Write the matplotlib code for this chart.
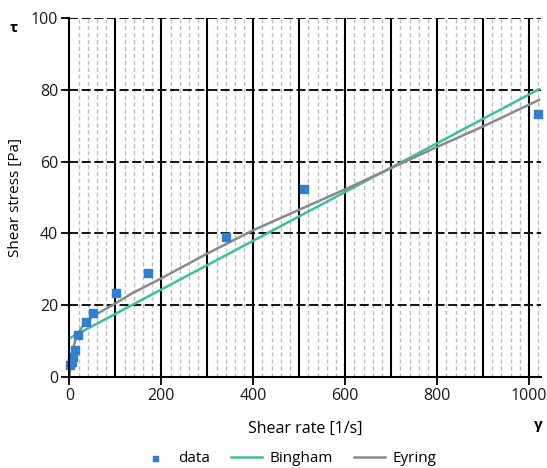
"""
Flow curve: measured shear stress vs shear rate with Bingham and Eyring fits
"""
import numpy as np
import matplotlib
matplotlib.use("Agg")
import matplotlib.pyplot as plt

plt.rcParams['font.family'] = ['Open Sans', 'DejaVu Sans']

# measured points
shear_rate = [1, 5, 8, 12, 18, 36, 52, 101, 171, 340, 510, 1020]
shear_stress = [3.3, 4.3, 5.5, 7.5, 11.7, 15.2, 17.7, 23.3, 28.9, 39.1, 52.5, 73.4]

# Bingham fit (straight line, read at both ends)
bingham_x = [0, 1022]
bingham_y = [10.8, 80.2]

# Eyring fit
eyring_x = [0, 2, 4, 8, 12, 16, 25, 34, 50, 71, 100, 136, 197, 300, 400,
            500, 600, 700, 800, 900, 1022]
eyring_y = [0, 2.6, 4.7, 7.8, 10.0, 11.5, 13.5, 15.0, 16.8, 18.4, 20.5, 23.3,
            27.3, 34.4, 40.9, 46.6, 52.3, 58.2, 64.1, 69.8, 77.2]

x_ticks = [0, 200, 400, 600, 800, 1000]
y_ticks = [0, 20, 40, 60, 80, 100]

fig = plt.figure(figsize=(5.47, 4.68), dpi=100)
ax = fig.add_axes([0.127, 0.1944, 0.862, 0.7671])
ax.set_xlim(0, 1026)
ax.set_ylim(0, 100)

# grid: light dashed every 20, solid black every 100, black dashed rows
minor = [v for v in np.arange(20, 1026, 20) if v % 100 != 0]
ax.vlines(minor, 0, 100, colors='#bdbdbd', linestyles=(0, (3, 2)), lw=1.0, zorder=1)
ax.vlines(np.arange(100, 1026, 100), 0, 100, colors='black', lw=1.5, zorder=1)
ax.hlines(y_ticks[1:], 0, 1026, colors='black', linestyles=(0, (5, 2)), lw=1.3, zorder=1)

ax.plot(bingham_x, bingham_y, color='#3cbf9f', lw=1.8, label='Bingham', zorder=3)
ax.plot(eyring_x, eyring_y, color='#8a8a8a', lw=1.8, label='Eyring', zorder=3)
ax.scatter(shear_rate, shear_stress, marker='s', s=36, color='#2f80d0',
           label='data', zorder=4, clip_on=False)

for side in ['top', 'right']:
    ax.spines[side].set_visible(False)
for side in ['left', 'bottom']:
    ax.spines[side].set_linewidth(1.5)
    ax.spines[side].set_zorder(5)

ax.set_xticks(x_ticks)
ax.set_yticks(y_ticks)
ax.tick_params(axis='both', length=6, width=1.3, labelsize=11.5,
               labelcolor='#1a1a1a', pad=2)

ax.set_xlabel('Shear rate [1/s]', fontsize=11.5, labelpad=12)
ax.set_ylabel('Shear stress [Pa]', fontsize=11, labelpad=6)
fig.text(0.018, 0.94, 'τ', fontsize=11, fontweight='bold', ha='left', va='center')
fig.text(0.992, 0.092, 'γ', fontsize=11, fontweight='bold', ha='right', va='center')

handles, labels = ax.get_legend_handles_labels()
order = [2, 0, 1]
fig.legend([handles[i] for i in order], [labels[i] for i in order],
           loc='lower center', bbox_to_anchor=(0.527, -0.025), ncol=3,
           frameon=False, fontsize=11, handlelength=2.0, columnspacing=1.4,
           handletextpad=0.5, markerscale=0.6)

fig.savefig('out.png', dpi=100)
